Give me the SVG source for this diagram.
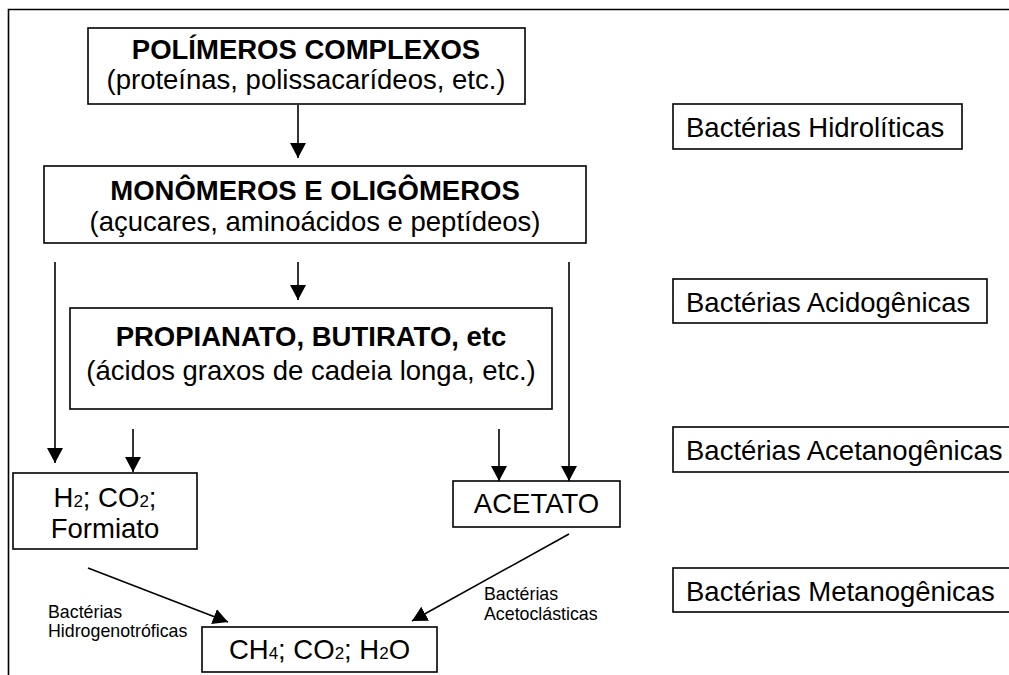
<svg xmlns="http://www.w3.org/2000/svg" width="1009" height="675" viewBox="0 0 1009 675">
<defs>
<style>
.box{fill:#fff;stroke:#000;stroke-width:1.6}
.t{font-family:"Liberation Sans",Arial,sans-serif;font-size:27.5px;fill:#000}
.b{font-weight:bold}
.s{font-family:"Liberation Sans",Arial,sans-serif;font-size:17.8px;fill:#000}
.sub{font-size:17px}
.ln{stroke:#000;stroke-width:1.6;fill:none}
</style>
<marker id="ah" markerUnits="userSpaceOnUse" markerWidth="18" markerHeight="18" refX="15" refY="8" orient="auto">
<path d="M0,0 L15,8 L0,16 z" fill="#000"/>
</marker>
</defs>
<rect width="1009" height="675" fill="#fff"/>
<g id="frame">
<path class="ln" d="M8.5,675 V9.5 H1009" stroke-width="2"/>
</g>
<g id="connectors">
<line class="ln" x1="298" y1="105" x2="298" y2="158" marker-end="url(#ah)"/>
<line class="ln" x1="298" y1="262" x2="298" y2="300" marker-end="url(#ah)"/>
<line class="ln" x1="55" y1="262" x2="55" y2="463" marker-end="url(#ah)"/>
<line class="ln" x1="569" y1="262" x2="569" y2="481" marker-end="url(#ah)"/>
<line class="ln" x1="133" y1="429" x2="133" y2="472" marker-end="url(#ah)"/>
<line class="ln" x1="499" y1="429" x2="499" y2="481" marker-end="url(#ah)"/>
<line class="ln" x1="88" y1="568" x2="228" y2="622" marker-end="url(#ah)"/>
<line class="ln" x1="569" y1="534" x2="412" y2="621" marker-end="url(#ah)"/>
</g>
<g id="n-polimeros">
<rect class="box" x="88" y="28" width="437" height="76"/>
<text class="t b" x="306" y="59" text-anchor="middle">POLÍMEROS COMPLEXOS</text>
<text class="t" x="306" y="89" text-anchor="middle">(proteínas, polissacarídeos, etc.)</text>
</g>
<g id="n-monomeros">
<rect class="box" x="44" y="166" width="542" height="77"/>
<text class="t b" x="315" y="200" text-anchor="middle">MONÔMEROS E OLIGÔMEROS</text>
<text class="t" x="315" y="231" text-anchor="middle">(açucares, aminoácidos e peptídeos)</text>
</g>
<g id="n-propianato">
<rect class="box" x="70" y="308" width="482" height="101"/>
<text class="t b" x="311" y="346" text-anchor="middle">PROPIANATO, BUTIRATO, etc</text>
<text class="t" x="311" y="380" text-anchor="middle">(ácidos graxos de cadeia longa, etc.)</text>
</g>
<g id="n-h2">
<rect class="box" x="13" y="473" width="184" height="76"/>
<text class="t" x="105" y="507" text-anchor="middle">H<tspan class="sub">2</tspan>; CO<tspan class="sub">2</tspan>;</text>
<text class="t" x="105" y="538" text-anchor="middle">Formiato</text>
</g>
<g id="n-acetato">
<rect class="box" x="453" y="481" width="167" height="46"/>
<text class="t" x="536.5" y="513" text-anchor="middle">ACETATO</text>
</g>
<g id="n-ch4">
<rect class="box" x="202" y="627" width="235" height="45"/>
<text class="t" x="319.5" y="659" text-anchor="middle">CH<tspan class="sub">4</tspan>; CO<tspan class="sub">2</tspan>; H<tspan class="sub">2</tspan>O</text>
</g>
<g id="lbl-hidrogenotroficas">
<text class="s" x="48" y="618">Bactérias</text>
<text class="s" x="48" y="637">Hidrogenotróficas</text>
</g>
<g id="lbl-acetoclasticas">
<text class="s" x="484" y="600">Bactérias</text>
<text class="s" x="484" y="620">Acetoclásticas</text>
</g>
<g id="n-hidroliticas">
<rect class="box" x="673" y="104" width="289" height="45"/>
<text class="t" x="686" y="137">Bactérias Hidrolíticas</text>
</g>
<g id="n-acidogenicas">
<rect class="box" x="673" y="279" width="314" height="44"/>
<text class="t" x="686" y="312">Bactérias Acidogênicas</text>
</g>
<g id="n-acetanogenicas">
<rect class="box" x="673" y="427" width="345" height="45"/>
<text class="t" x="686" y="460">Bactérias Acetanogênicas</text>
</g>
<g id="n-metanogenicas">
<rect class="box" x="673" y="568" width="345" height="44"/>
<text class="t" x="686" y="601">Bactérias Metanogênicas</text>
</g>
</svg>
